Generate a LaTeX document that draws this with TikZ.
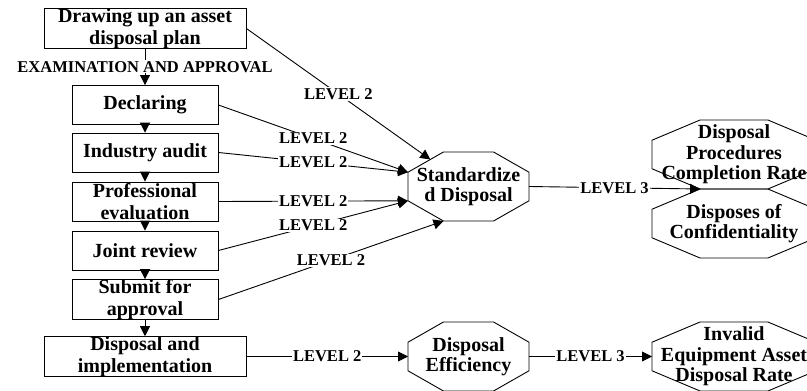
\documentclass[tikz,border=0pt]{standalone}
\usepackage{fontspec}
\setmainfont{Liberation Serif}
\usetikzlibrary{calc,arrows.meta}
\tikzset{
  boxnode/.style={draw,line width=0.9pt,fill=white,inner sep=0pt,align=center,
    minimum height=39pt,font=\bfseries\fontsize{20}{21.5}\selectfont},
  smallbox/.style={boxnode,minimum width=146pt},
  widebox/.style={boxnode,minimum width=202pt},
  octtext/.style={inner sep=0pt,outer sep=0pt,align=center,
    font=\bfseries\fontsize{20}{20.5}\selectfont},
  octline/.style={line width=0.9pt},
  lab/.style={fill=white,inner sep=1pt,font=\bfseries\fontsize{16.5}{18}\selectfont},
  conn/.style={line width=0.9pt},
  arr/.style={conn,-{Triangle[length=10pt,width=10pt]}},
}
\newcommand{\myoct}[5]{%
  \node[octtext,minimum width=#3,minimum height=#4] (#1) at (#2) {#5};
  \coordinate (#1-nl) at ($(#1.north west)!0.293!(#1.north east)$);
  \coordinate (#1-nr) at ($(#1.north east)!0.293!(#1.north west)$);
  \coordinate (#1-eu) at ($(#1.north east)!0.293!(#1.south east)$);
  \coordinate (#1-el) at ($(#1.south east)!0.293!(#1.north east)$);
  \coordinate (#1-sr) at ($(#1.south east)!0.293!(#1.south west)$);
  \coordinate (#1-sl) at ($(#1.south west)!0.293!(#1.south east)$);
  \coordinate (#1-wl) at ($(#1.south west)!0.293!(#1.north west)$);
  \coordinate (#1-wu) at ($(#1.north west)!0.293!(#1.south west)$);
  \draw[octline] (#1-nl)--(#1-nr)--(#1-eu)--(#1-el)--(#1-sr)--(#1-sl)--(#1-wl)--(#1-wu)--cycle;
}
\begin{document}
\begin{tikzpicture}[x=1pt,y=-1pt]
\useasboundingbox (0,0) rectangle (807,391);
\fill[white] (0,0) rectangle (807,391);
\clip (0,0) rectangle (807,391);

% left column
\node[widebox] (plan) at (145,28.5) {Drawing up an asset\\disposal plan};
\node[smallbox] (decl) at (145,105) {Declaring};
\node[smallbox] (ind) at (145,152.5) {Industry audit};
\node[smallbox] (prof) at (145,201.5) {Professional\\evaluation};
\node[smallbox] (joint) at (145,250.5) {Joint review};
\node[smallbox] (sub) at (145,299.5) {Submit for\\approval};
\node[widebox] (impl) at (145,356.5) {Disposal and\\implementation};

% octagons
\myoct{std}{468.5,186.5}{121pt}{69pt}{Standardize\\d Disposal}
\myoct{eff}{468.5,356.5}{121pt}{69pt}{Disposal\\Efficiency}
\myoct{pr}{734,154.5}{164pt}{69pt}{Disposal\\Procedures\\Completion Rate}
\myoct{conf}{734,223.5}{164pt}{69pt}{Disposes of\\Confidentiality}
\myoct{inv}{734,356.5}{164pt}{69pt}{Invalid\\Equipment Asset\\Disposal Rate}

% vertical chain
\draw[arr] (plan.south) -- node[lab,pos=0.5]{EXAMINATION AND APPROVAL} (decl.north);
\draw[arr] (decl.south) -- (ind.north);
\draw[arr] (ind.south) -- (prof.north);
\draw[arr] (prof.south) -- (joint.north);
\draw[arr] (joint.south) -- (sub.north);
\draw[arr] (sub.south) -- (impl.north);

% level 2 connectors
\draw[arr] (plan.east) -- node[lab,pos=0.5]{LEVEL 2} ($(std-wu)!0.63!(std-nl)$);
\draw[arr] (decl.east) -- node[lab,pos=0.5]{LEVEL 2} (std-wu);
\draw[arr] (ind.east) -- node[lab,pos=0.5]{LEVEL 2} (std-wu);
\draw[arr] (prof.east) -- node[lab,pos=0.5]{LEVEL 2} (std-wl);
\draw[arr] (joint.east) -- node[lab,pos=0.5]{LEVEL 2} (std-wl);
\draw[arr] (sub.east) -- node[lab,pos=0.5]{LEVEL 2} (std-sl);
\draw[arr] (impl.east) -- node[lab,pos=0.5]{LEVEL 2} (eff.west);

% level 3 connectors
\draw[arr] (std.east) -- node[lab,pos=0.5]{LEVEL 3} (pr-sl);
\draw[arr] (eff.east) -- node[lab,pos=0.5]{LEVEL 3} (inv.west);
\end{tikzpicture}
\end{document}
